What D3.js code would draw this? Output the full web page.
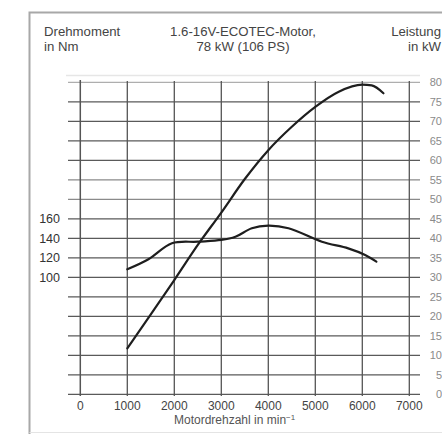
<!DOCTYPE html>
<html><head><meta charset="utf-8">
<script src="https://cdn.jsdelivr.net/npm/d3@7"></script>
<style>
html,body{margin:0;padding:0;background:#fff;}
svg{display:block;}
text{font-family:"Liberation Sans",Arial,sans-serif;}
</style></head>
<body>
<svg id="chart" width="442" height="434"></svg>
<script>
// Data
const rpmTicks = [0,1000,2000,3000,4000,5000,6000,7000];
const kwTicks = [0,5,10,15,20,25,30,35,40,45,50,55,60,65,70,75,80];
const nmTicks = [100,120,140,160];
const powerRpm = [1000,1500,2000,2500,3000,3500,4000,4500,5000,5500,6000,6200,6450];
const powerKw  = [11.8,20.5,29.3,38.3,46.6,55.2,62.6,68.6,73.7,77.6,79.4,79.2,77.2];
const torqueRpm = [1000,1450,1950,2500,3000,3300,3650,4000,4430,5140,5700,6060,6300];
const torqueNm  = [108.2,118.5,134.9,136.5,138.3,141.6,150.3,152.9,150.3,136.5,129.7,122.9,116];

const svg = d3.select("#chart");
const x = d3.scaleLinear().domain([0,7000]).range([80.3,409.3]);
const yKw = d3.scaleLinear().domain([0,80]).range([394.3,82.3]);
const yNm = d3.scaleLinear().domain([-20,300]).range([394.3,82.3]);

// frame
svg.append("path").attr("d","M29.5,440 L29.5,12.5 L450,12.5")
  .attr("fill","none").attr("stroke","#a8a8a8").attr("stroke-width",2);
svg.append("line").attr("x1",29.5).attr("x2",442).attr("y1",432.5).attr("y2",432.5)
  .attr("stroke","#e4e4e4").attr("stroke-width",1);

// faint top line
svg.append("line").attr("x1",66).attr("x2",420).attr("y1",75.5).attr("y2",75.5)
  .attr("stroke","#e6e6e6").attr("stroke-width",1.5);

// horizontal grid
svg.append("g").selectAll("line").data(kwTicks).join("line")
  .attr("x1",68).attr("x2",420)
  .attr("y1",d=>yKw(d)).attr("y2",d=>yKw(d))
  .attr("stroke",d=> d===80 ? "#9a9a9a" : (d===50||d===55) ? "#8a8a8a" : "#5a5a5a")
  .attr("stroke-width",d=> d===80 ? 1 : 1.3);

// vertical grid
svg.append("g").selectAll("line").data(rpmTicks).join("line")
  .attr("x1",d=>x(d)).attr("x2",d=>x(d))
  .attr("y1",d=> d===0 ? 80 : 81).attr("y2",396)
  .attr("stroke","#555").attr("stroke-width",d=> d===0 ? 1.5 : 1.3);

// x tick labels
svg.append("g").selectAll("text").data(rpmTicks).join("text")
  .attr("x",d=>x(d)).attr("y",410)
  .attr("text-anchor","middle").attr("font-size",12).attr("fill","#444")
  .text(d=>d);

// left labels
svg.append("g").selectAll("text").data(nmTicks).join("text")
  .attr("x",60).attr("y",d=>yNm(d)+4.5)
  .attr("text-anchor","end").attr("font-size",12.5).attr("fill","#333")
  .text(d=>d);

// right labels
svg.append("g").selectAll("text").data(kwTicks).join("text")
  .attr("x",442).attr("y",d=>yKw(d)+4)
  .attr("text-anchor","end").attr("font-size",11)
  .attr("font-family","'Liberation Serif',serif").attr("fill","#8a8a8a")
  .text(d=>d);

// titles
const fs = 13.2;
svg.append("text").attr("x",44).attr("y",36).attr("font-size",fs).attr("fill","#444").text("Drehmoment");
svg.append("text").attr("x",44).attr("y",51).attr("font-size",fs).attr("fill","#444").text("in Nm");
svg.append("text").attr("x",243).attr("y",36).attr("text-anchor","middle").attr("font-size",fs).attr("fill","#444").text("1.6-16V-ECOTEC-Motor,");
svg.append("text").attr("x",243).attr("y",51).attr("text-anchor","middle").attr("font-size",fs).attr("fill","#444").text("78 kW (106 PS)");
svg.append("text").attr("x",441).attr("y",36).attr("text-anchor","end").attr("font-size",fs).attr("fill","#444").text("Leistung");
svg.append("text").attr("x",441).attr("y",51).attr("text-anchor","end").attr("font-size",fs).attr("fill","#444").text("in kW");
const xl = svg.append("text").attr("x",174).attr("y",424).attr("font-size",12).attr("fill","#555");
xl.append("tspan").text("Motordrehzahl in min");
xl.append("tspan").attr("dy",-4.5).attr("font-size",8).text("−1");

// curves
const powerData = powerRpm.map((r,i)=>[r,powerKw[i]]);
const torqueData = torqueRpm.map((r,i)=>[r,torqueNm[i]]);
svg.append("path").datum(powerData)
  .attr("d", d3.line().x(d=>x(d[0])).y(d=>yKw(d[1])).curve(d3.curveMonotoneX))
  .attr("fill","none").attr("stroke","#1e1e1e").attr("stroke-width",2.2).attr("stroke-linecap","round");
svg.append("path").datum(torqueData)
  .attr("d", d3.line().x(d=>x(d[0])).y(d=>yNm(d[1])).curve(d3.curveCatmullRom))
  .attr("fill","none").attr("stroke","#1e1e1e").attr("stroke-width",2.2).attr("stroke-linecap","round");
</script>
</body></html>
